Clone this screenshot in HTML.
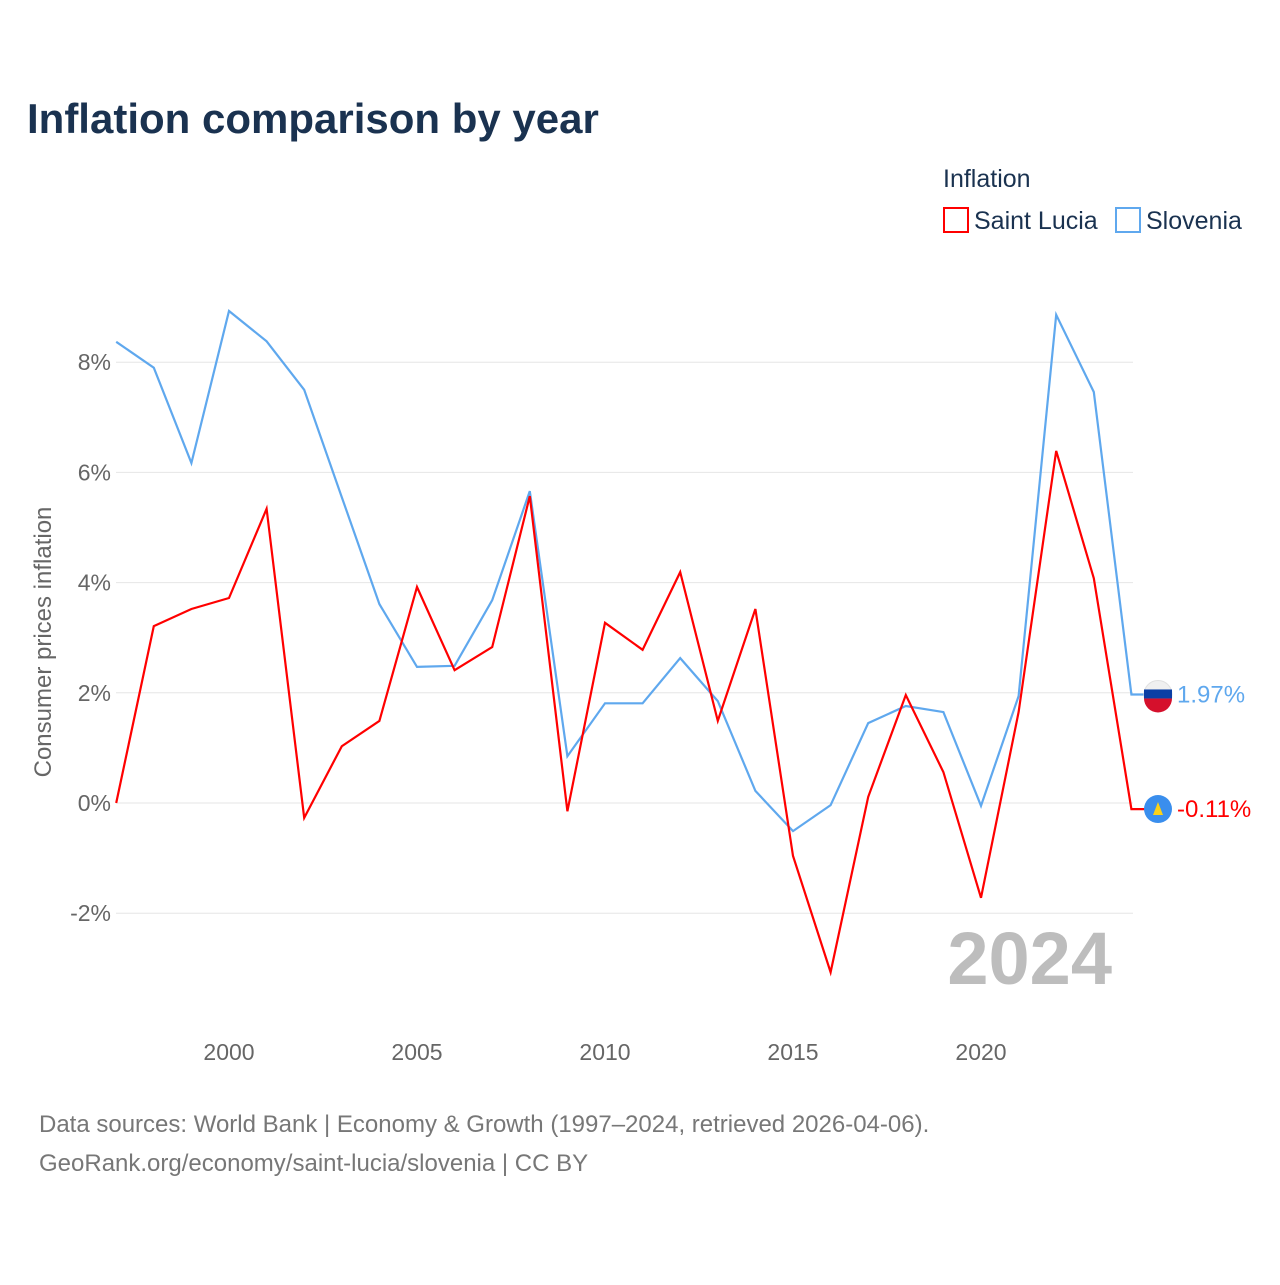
<!DOCTYPE html>
<html><head><meta charset="utf-8"><style>
body{margin:0;background:#fff;width:1280px;height:1280px;overflow:hidden;font-family:"Liberation Sans",sans-serif}
</style></head><body>
<svg id="chart" width="1280" height="1280" xmlns="http://www.w3.org/2000/svg" font-family="Liberation Sans, sans-serif">
<text x="27" y="133" font-size="42" font-weight="bold" fill="#1a3250">Inflation comparison by year</text>
<text x="943" y="187" font-size="25" fill="#1a3250">Inflation</text>
<rect x="944" y="208" width="24" height="24" fill="none" stroke="#ff0000" stroke-width="2"/>
<text x="974" y="229" font-size="25" fill="#1a3250">Saint Lucia</text>
<rect x="1116" y="208" width="24" height="24" fill="none" stroke="#5fa8ee" stroke-width="2"/>
<text x="1146" y="229" font-size="25" fill="#1a3250">Slovenia</text>
<text transform="translate(51,642) rotate(-90)" text-anchor="middle" font-size="24" fill="#666">Consumer prices inflation</text>
<text x="1112" y="984" text-anchor="end" font-size="74" font-weight="bold" fill="#bdbdbd">2024</text>
<g id="grid"></g><g id="xt"></g><g id="lines"></g>
<text x="39" y="1132" font-size="24" fill="#777">Data sources: World Bank | Economy &amp; Growth (1997–2024, retrieved 2026-04-06).</text>
<text x="39" y="1171" font-size="24" fill="#777">GeoRank.org/economy/saint-lucia/slovenia | CC BY</text>
</svg>
<script>
const years=[1997,1998,1999,2000,2001,2002,2003,2004,2005,2006,2007,2008,2009,2010,2011,2012,2013,2014,2015,2016,2017,2018,2019,2020,2021,2022,2023,2024];
const saintLucia=[0,3.21,3.52,3.72,5.34,-0.27,1.03,1.49,3.92,2.41,2.83,5.57,-0.15,3.27,2.78,4.19,1.49,3.52,-0.96,-3.07,0.11,1.96,0.56,-1.72,1.65,6.39,4.08,-0.11];
const slovenia=[8.37,7.9,6.17,8.93,8.38,7.5,5.55,3.61,2.47,2.49,3.68,5.66,0.85,1.81,1.81,2.63,1.85,0.22,-0.51,-0.04,1.45,1.76,1.65,-0.05,1.94,8.86,7.46,1.97];
const yTicks=[-2,0,2,4,6,8];
const xTicks=[2000,2005,2010,2015,2020];
const NS="http://www.w3.org/2000/svg";
const X=y=>229+(y-2000)*37.6;
const Y=v=>803-v*55.1;
function mk(t,a,p){const e=document.createElementNS(NS,t);for(const k in a)e.setAttribute(k,a[k]);p.appendChild(e);return e;}
const grid=document.getElementById('grid');
yTicks.forEach(v=>{
 const l=mk('line',{x1:116,x2:1133,y1:Y(v),y2:Y(v),stroke:'#e6e6e6','stroke-width':1},grid);
 
 
 const t=mk('text',{x:111,y:Y(v)+8,'text-anchor':'end','font-size':23,fill:'#666'},grid);
 t.textContent=v+'%';
 
 
});
const xt=document.getElementById('xt');
xTicks.forEach(v=>{
 const t=mk('text',{x:X(v),y:1060,'text-anchor':'middle','font-size':23,fill:'#666'},xt);
 t.textContent=v;
 
 
});
const lines=document.getElementById('lines');
function series(vals,color,name,fmt){
 let d=vals.map((v,i)=>(i?'L':'M')+X(years[i]).toFixed(1)+','+Y(v).toFixed(1)).join(' ');
 const last=vals[vals.length-1];
 d+=' L'+(X(years[years.length-1])+14)+','+Y(last).toFixed(1);
 const p=mk('path',{d:d,fill:'none',stroke:color,'stroke-width':2.2,'stroke-linejoin':'miter'},lines);
 
 
 const c=mk('circle',{cx:1158,cy:Y(last),r:14,fill:name==='slovenia'?'#f0f0f0':'#3a8eed',stroke:name==='slovenia'?'#e0e0e0':'none'},lines);
 
 
 if(name==='slovenia'){
  const r1=mk('path',{d:`M1144,${Y(last)+4} A14,14 0 0 0 1172,${Y(last)+4} Z`,fill:'#d5102c'},lines);
  
  const r2=mk('rect',{x:1144,y:Y(last)-5,width:28,height:9,fill:'#0b3fa5'},lines);
  
 } else {
  const tr=mk('path',{d:`M1158,${Y(last)-7} L1163,${Y(last)+6} L1153,${Y(last)+6} Z`,fill:'#fcd116'},lines);
  
 }
 const t=mk('text',{x:1177,y:Y(last)+8,'font-size':24,fill:color},lines);
 t.textContent=fmt(last);
 
 
}
series(slovenia,'#5fa8ee','slovenia',v=>v.toFixed(2)+'%');
series(saintLucia,'#ff0000','saint-lucia',v=>v.toFixed(2)+'%');
</script>
</body></html>
